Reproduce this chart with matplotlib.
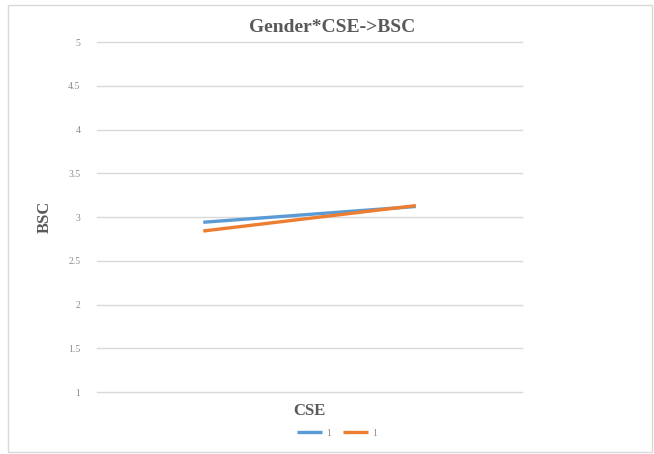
import matplotlib
matplotlib.use("Agg")
import matplotlib.pyplot as plt
from matplotlib.patches import Rectangle

# Simple slopes: BSC at low / high CSE for each gender group
cse_levels = ["Low", "High"]
series_names = ["1", "1"]
bsc_group_a = [2.94, 3.12]
bsc_group_b = [2.84, 3.13]
y_ticks = [1, 1.5, 2, 2.5, 3, 3.5, 4, 4.5, 5]
y_tick_labels = ["1", "1.5", "2", "2.5", "3", "3.5", "4", "4.5", "5"]

colors = ["#5B9BD5", "#ED7D31"]
serif = ["Liberation Serif", "DejaVu Serif"]

W, H = 654, 454
fig = plt.figure(figsize=(W / 100, H / 100), dpi=100)
fig.patch.set_facecolor("white")

# chart border
fig.patches.append(Rectangle((8 / W, 1 - 452 / H), 644 / W, 447 / H,
                             transform=fig.transFigure, fill=False,
                             edgecolor="#D9D9D9", linewidth=1.0))

left, right, top, bottom = 97, 522, 42, 392
ax = fig.add_axes([left / W, 1 - bottom / H, (right - left) / W, (bottom - top) / H])
ax.set_facecolor("white")

x = [0, 1]
for vals, name, c in zip([bsc_group_a, bsc_group_b], series_names, colors):
    ax.plot(x, vals, color=c, linewidth=2.4, solid_capstyle="butt", label=name)

ax.set_xlim(-0.5, 1.5)
ax.set_ylim(1, 5)
ax.set_yticks(y_ticks)
ax.set_yticklabels(y_tick_labels, fontfamily=serif, fontsize=7, color="#8C8C8C")
ax.set_xticks([])
ax.tick_params(axis="y", length=0, pad=12)
ax.yaxis.grid(True, color="#D9D9D9", linewidth=1.0)
for gl in ax.get_ygridlines():
    gl.set_clip_on(False)
ax.set_axisbelow(True)
for s in ax.spines.values():
    s.set_visible(False)

fig.text(332 / W, 1 - 27 / H, "Gender*CSE->BSC", ha="center", va="center",
         fontfamily=serif, fontweight="bold", fontsize=14, color="#595959")
fig.text(45 / W, 1 - 217 / H, "BSC", ha="center", va="center", rotation=90,
         fontfamily=serif, fontweight="bold", fontsize=12, color="#595959")
fig.text(309 / W, 1 - 411 / H, "CSE", ha="center", va="center",
         fontfamily=serif, fontweight="bold", fontsize=12, color="#595959")

leg = ax.legend(loc="center", bbox_to_anchor=(337 / W, 1 - 433 / H),
                bbox_transform=fig.transFigure, ncol=2, frameon=False,
                prop={"family": serif, "size": 7}, handlelength=2.6,
                handletextpad=0.4, columnspacing=1.2)
for t in leg.get_texts():
    t.set_color("#8C8C8C")

fig.savefig("out.png", dpi=100, facecolor="white")
